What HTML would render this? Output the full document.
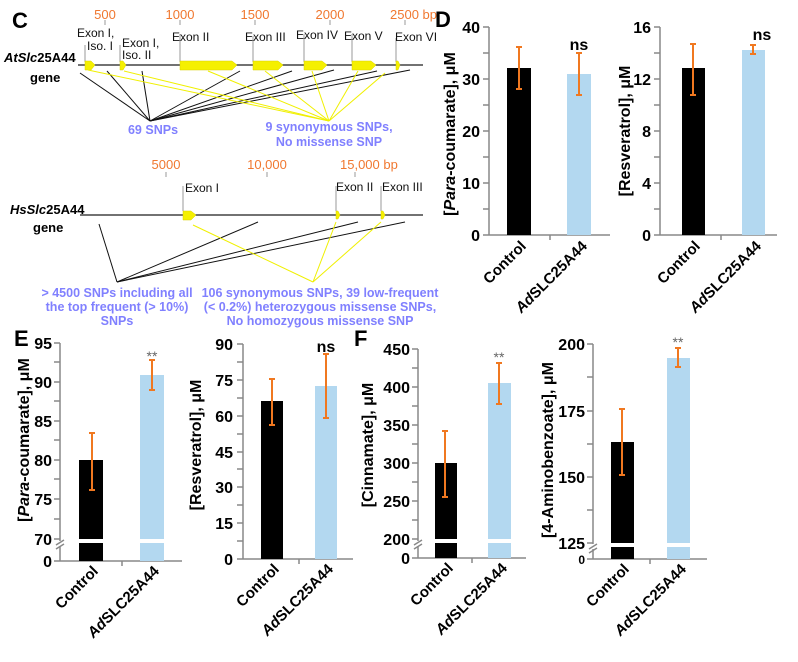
<!DOCTYPE html><html><head><style>body{margin:0;background:#fff}svg{display:block}text{font-family:"Liberation Sans",Arial,sans-serif}</style></head><body>
<svg width="798" height="662" viewBox="0 0 798 662" xmlns="http://www.w3.org/2000/svg">
<!-- Panel C top -->
<text x="12" y="28" font-size="22" font-weight="bold">C</text>
<g font-size="13" fill="#f07830">
<text x="105" y="19" text-anchor="middle">500</text><text x="180" y="19" text-anchor="middle">1000</text><text x="255" y="19" text-anchor="middle">1500</text><text x="330" y="19" text-anchor="middle">2000</text><text x="390" y="19">2500 bp</text>
</g>
<g stroke="#999" stroke-width="1"><line x1="105" y1="20" x2="105" y2="25"/><line x1="180" y1="20" x2="180" y2="25"/><line x1="255" y1="20" x2="255" y2="25"/><line x1="330" y1="20" x2="330" y2="25"/><line x1="405" y1="20" x2="405" y2="25"/>
<line x1="85" y1="45" x2="85" y2="62"/><line x1="120" y1="45" x2="120" y2="62"/><line x1="180" y1="34" x2="180" y2="62"/><line x1="253" y1="36" x2="253" y2="62"/><line x1="304" y1="34" x2="304" y2="62"/><line x1="352" y1="34" x2="352" y2="62"/><line x1="396" y1="38" x2="396" y2="62"/></g>
<g font-size="12" fill="#111">
<text x="77" y="37">Exon I,</text><text x="87" y="50">Iso. I</text><text x="122" y="47">Exon I,</text><text x="122" y="59">Iso. II</text><text x="172" y="41">Exon II</text><text x="245" y="41">Exon III</text><text x="296" y="39">Exon IV</text><text x="344" y="40">Exon V</text><text x="395" y="41">Exon VI</text>
</g>
<text x="4" y="62" font-size="13" font-weight="bold"><tspan font-style="italic">AtSlc</tspan>25A44</text>
<text x="30" y="82" font-size="13" font-weight="bold">gene</text>
<line x1="78" y1="65" x2="423" y2="65" stroke="#444" stroke-width="1.5"/>
<g fill="#f5f000" stroke="#d8d000" stroke-width="0.5">
<polygon points="85,61 91,61 95,65 91,70 85,70"/><polygon points="120,61 123,61 126,65 123,70 120,70"/>
<polygon points="180,61 232,61 237,65 232,70 180,70"/><polygon points="253,61 278,61 283,65 278,70 253,70"/>
<polygon points="304,61 322,61 327,65 322,70 304,70"/><polygon points="352,61 371,61 376,65 371,70 352,70"/>
<polygon points="396,61 398,61 400,65 398,70 396,70"/>
</g>
<g stroke="#111" stroke-width="1"><line x1="150" y1="121" x2="80" y2="73"/><line x1="150" y1="121" x2="107" y2="71"/><line x1="150" y1="121" x2="142" y2="71"/><line x1="150" y1="121" x2="240" y2="71"/><line x1="150" y1="121" x2="292" y2="71"/><line x1="150" y1="121" x2="334" y2="70"/><line x1="150" y1="121" x2="377" y2="71"/><line x1="150" y1="121" x2="410" y2="70"/></g>
<g stroke="#f0f000" stroke-width="1"><line x1="329" y1="121" x2="88" y2="70"/><line x1="329" y1="121" x2="124" y2="71"/><line x1="329" y1="121" x2="208" y2="71"/><line x1="329" y1="121" x2="265" y2="71"/><line x1="329" y1="121" x2="312" y2="71"/><line x1="329" y1="121" x2="358" y2="71"/><line x1="329" y1="121" x2="385" y2="73"/></g>
<g font-size="12.5" font-weight="bold" fill="#8080ff" text-anchor="middle">
<text x="153" y="134">69 SNPs</text><text x="329" y="131">9 synonymous SNPs,</text><text x="329" y="146">No missense SNP</text>
</g>
<!-- Hs gene -->
<g font-size="13" fill="#f07830">
<text x="166" y="169" text-anchor="middle">5000</text><text x="267" y="169" text-anchor="middle">10,000</text><text x="340" y="169">15,000 bp</text>
</g>
<g stroke="#999"><line x1="166" y1="172" x2="166" y2="177"/><line x1="267" y1="172" x2="267" y2="177"/><line x1="355" y1="172" x2="355" y2="177"/>
<line x1="183" y1="186" x2="183" y2="211"/><line x1="336" y1="186" x2="336" y2="211"/><line x1="381" y1="186" x2="381" y2="211"/></g>
<g font-size="12" fill="#111"><text x="185" y="192">Exon I</text><text x="336" y="191">Exon II</text><text x="382" y="191">Exon III</text></g>
<text x="10" y="214" font-size="13" font-weight="bold"><tspan font-style="italic">HsSlc</tspan>25A44</text>
<text x="33" y="232" font-size="13" font-weight="bold">gene</text>
<line x1="80" y1="215" x2="423" y2="215" stroke="#444" stroke-width="1.5"/>
<g fill="#f5f000" stroke="#d8d000" stroke-width="0.5"><polygon points="183,211 191,211 196,215 191,220 183,220"/><polygon points="336,211 338,211 340,215 338,219 336,219"/><polygon points="381,211 383,211 385,215 383,219 381,219"/></g>
<g stroke="#111"><line x1="117" y1="282" x2="99" y2="224"/><line x1="117" y1="282" x2="258" y2="222"/><line x1="117" y1="282" x2="358" y2="222"/><line x1="117" y1="282" x2="405" y2="222"/></g>
<g stroke="#f0f000"><line x1="313" y1="282" x2="193" y2="225"/><line x1="313" y1="282" x2="336" y2="222"/><line x1="313" y1="282" x2="381" y2="222"/></g>
<g font-size="12.5" font-weight="bold" fill="#8080ff" text-anchor="middle">
<text x="117" y="297">&gt; 4500 SNPs including all</text><text x="117" y="311">the top frequent (&gt; 10%)</text><text x="117" y="325">SNPs</text>
<text x="320" y="297">106 synonymous SNPs, 39 low-frequent</text><text x="320" y="311">(&lt; 0.2%) heterozygous missense SNPs,</text><text x="320" y="325">No homozygous missense SNP</text>
</g>
<!-- Panel D -->
<text x="435" y="27" font-size="22" font-weight="bold">D</text>
<g stroke="#888" stroke-width="1.5" fill="none">
<line x1="489" y1="27" x2="489" y2="235"/><line x1="489" y1="235" x2="610" y2="235"/><line x1="550" y1="235" x2="550" y2="240"/>
<path d="M483 27h6M483 53h6M483 79h6M483 105h6M483 131h6M483 157h6M483 183h6M483 209h6M483 235h6"/>
<line x1="660" y1="27" x2="660" y2="235"/><line x1="660" y1="235" x2="777" y2="235"/><line x1="721" y1="235" x2="721" y2="240"/>
<path d="M654 27h6M654 53h6M654 79h6M654 105h6M654 131h6M654 157h6M654 183h6M654 209h6M654 235h6"/>
</g>
<g font-size="16" font-weight="bold" text-anchor="end">
<text x="480" y="33">40</text><text x="480" y="85">30</text><text x="480" y="137">20</text><text x="480" y="189">10</text><text x="480" y="241">0</text>
<text x="651" y="33">16</text><text x="651" y="85">12</text><text x="651" y="137">8</text><text x="651" y="189">4</text><text x="651" y="241">0</text>
</g>
<rect x="507" y="68" width="24" height="167" fill="#000"/><rect x="567" y="74" width="24" height="161" fill="#b3d8f0"/>
<rect x="682" y="68" width="23" height="167" fill="#000"/><rect x="742" y="50" width="23" height="185" fill="#b3d8f0"/>
<g stroke="#f07820" stroke-width="2" fill="none">
<path d="M519 47V89M516 47h6M516 89h6"/><path d="M579 53V95M576 53h6M576 95h6"/>
<path d="M693 44V95M690 44h6M690 95h6"/><path d="M753 45V54M750 45h6M750 54h6"/>
</g>
<text x="579" y="50" font-size="16" font-weight="bold" text-anchor="middle">ns</text>
<text x="762" y="40" font-size="16" font-weight="bold" text-anchor="middle">ns</text>
<text transform="translate(455,134) rotate(-90)" font-size="16" font-weight="bold" text-anchor="middle">[<tspan font-style="italic">Para</tspan>-coumarate], μM</text>
<text transform="translate(630,131) rotate(-90)" font-size="16" font-weight="bold" text-anchor="middle">[Resveratrol], μM</text>
<g font-size="15" font-weight="bold" text-anchor="end">
<text transform="translate(527,247) rotate(-45)">Control</text><text transform="translate(588,247) rotate(-45)"><tspan font-style="italic">Ad</tspan>SLC25A44</text>
<text transform="translate(701,247) rotate(-45)">Control</text><text transform="translate(762,247) rotate(-45)"><tspan font-style="italic">Ad</tspan>SLC25A44</text>
</g>
<!-- Panel E -->
<text x="14" y="346" font-size="22" font-weight="bold">E</text>
<g stroke="#888" stroke-width="1.5" fill="none">
<line x1="60" y1="343" x2="60" y2="541"/><line x1="60" y1="546" x2="60" y2="561"/><line x1="60" y1="561" x2="182" y2="561"/><line x1="122" y1="561" x2="122" y2="566"/>
<path d="M54 343h6M54 362h6M54 382h6M54 401h6M54 421h6M54 440h6M54 460h6M54 479h6M54 499h6M54 519h6M54 539h6M54 561h6"/>
<path d="M56 545l8-5M56 549l8-5"/>
<line x1="243" y1="344" x2="243" y2="559"/><line x1="243" y1="559" x2="353" y2="559"/><line x1="299" y1="559" x2="299" y2="564"/>
<path d="M237 344h6M237 362h6M237 380h6M237 398h6M237 416h6M237 434h6M237 452h6M237 469h6M237 487h6M237 505h6M237 523h6M237 541h6M237 559h6"/>
</g>
<g font-size="16" font-weight="bold" text-anchor="end">
<text x="52" y="349">95</text><text x="52" y="388">90</text><text x="52" y="427">85</text><text x="52" y="466">80</text><text x="52" y="505">75</text><text x="52" y="545">70</text><text x="52" y="567">0</text>
<text x="233" y="350">90</text><text x="233" y="386">75</text><text x="233" y="422">60</text><text x="233" y="458">45</text><text x="233" y="493">30</text><text x="233" y="529">15</text><text x="233" y="565">0</text>
</g>
<rect x="79" y="460" width="24" height="101" fill="#000"/><rect x="140" y="375" width="24" height="186" fill="#b3d8f0"/>
<rect x="70" y="539" width="110" height="4" fill="#fff"/>
<rect x="261" y="401" width="22" height="158" fill="#000"/><rect x="315" y="386" width="22" height="173" fill="#b3d8f0"/>
<g stroke="#f07820" stroke-width="2" fill="none">
<path d="M92 433V490M89 433h6M89 490h6"/><path d="M152 360V390M149 360h6M149 390h6"/>
<path d="M272 379V425M269 379h6M269 425h6"/><path d="M326 354V418M323 354h6M323 418h6"/>
</g>
<text x="152" y="361" font-size="14" fill="#666" text-anchor="middle">**</text>
<text x="326" y="352" font-size="16" font-weight="bold" text-anchor="middle">ns</text>
<text transform="translate(29,440) rotate(-90)" font-size="16" font-weight="bold" text-anchor="middle">[<tspan font-style="italic">Para</tspan>-coumarate], μM</text>
<text transform="translate(201,445) rotate(-90)" font-size="16" font-weight="bold" text-anchor="middle">[Resveratrol], μM</text>
<!-- Panel F -->
<text x="354" y="346" font-size="22" font-weight="bold">F</text>
<g stroke="#888" stroke-width="1.5" fill="none">
<line x1="418" y1="349" x2="418" y2="541"/><line x1="418" y1="546" x2="418" y2="558"/><line x1="418" y1="558" x2="526" y2="558"/><line x1="472" y1="558" x2="472" y2="563"/>
<path d="M412 349h6M412 368h6M412 387h6M412 406h6M412 425h6M412 444h6M412 463h6M412 482h6M412 501h6M412 520h6M412 539h6M412 558h6"/>
<path d="M414 545l8-5M414 549l8-5"/>
<line x1="593" y1="344" x2="593" y2="544"/><line x1="593" y1="549" x2="593" y2="559"/><line x1="593" y1="559" x2="707" y2="559"/><line x1="650" y1="559" x2="650" y2="564"/>
<path d="M587 344h6M587 377h6M587 411h6M587 444h6M587 477h6M587 510h6M587 543h6M587 559h6"/>
<path d="M589 549l8-5M589 553l8-5"/>
</g>
<g font-size="16" font-weight="bold" text-anchor="end">
<text x="410" y="355">450</text><text x="410" y="393">400</text><text x="410" y="431">350</text><text x="410" y="469">300</text><text x="410" y="507">250</text><text x="410" y="545">200</text><text x="410" y="564">0</text>
<text x="585" y="350">200</text><text x="585" y="417">175</text><text x="585" y="483">150</text><text x="585" y="549">125</text><text x="585" y="564" font-size="12">0</text>
</g>
<rect x="435" y="463" width="22" height="95" fill="#000"/><rect x="488" y="383" width="23" height="175" fill="#b3d8f0"/>
<rect x="428" y="539" width="95" height="4" fill="#fff"/>
<rect x="611" y="442" width="23" height="117" fill="#000"/><rect x="667" y="358" width="23" height="201" fill="#b3d8f0"/>
<rect x="605" y="543" width="95" height="4" fill="#fff"/>
<g stroke="#f07820" stroke-width="2" fill="none">
<path d="M445 431V497M442 431h6M442 497h6"/><path d="M499 363V404M496 363h6M496 404h6"/>
<path d="M622 409V475M619 409h6M619 475h6"/><path d="M678 348V367M675 348h6M675 367h6"/>
</g>
<text x="499" y="362" font-size="14" fill="#666" text-anchor="middle">**</text>
<text x="678" y="347" font-size="14" fill="#666" text-anchor="middle">**</text>
<text transform="translate(373,445) rotate(-90)" font-size="16" font-weight="bold" text-anchor="middle">[Cinnamate], μM</text>
<text transform="translate(553,450) rotate(-90)" font-size="16" font-weight="bold" text-anchor="middle">[4-Aminobenzoate], μM</text>
<!-- bottom category labels -->
<g font-size="15" font-weight="bold" text-anchor="end">
<text transform="translate(99,572) rotate(-45)">Control</text><text transform="translate(160,572) rotate(-45)"><tspan font-style="italic">Ad</tspan>SLC25A44</text>
<text transform="translate(280,570) rotate(-45)">Control</text><text transform="translate(334,570) rotate(-45)"><tspan font-style="italic">Ad</tspan>SLC25A44</text>
<text transform="translate(454,569) rotate(-45)">Control</text><text transform="translate(508,569) rotate(-45)"><tspan font-style="italic">Ad</tspan>SLC25A44</text>
<text transform="translate(630,570) rotate(-45)">Control</text><text transform="translate(687,570) rotate(-45)"><tspan font-style="italic">Ad</tspan>SLC25A44</text>
</g>
</svg>
</body></html>
